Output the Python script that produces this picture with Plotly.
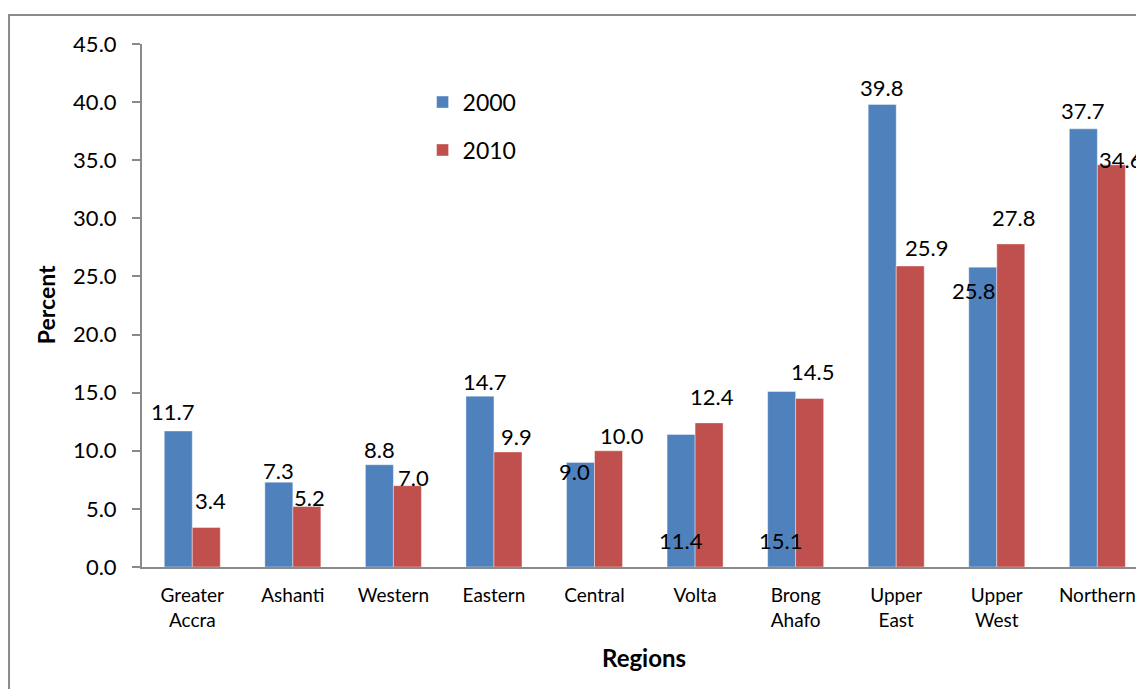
import plotly.graph_objects as go

# ---------- Data ----------
regions = [
    "Greater<br>Accra", "Ashanti", "Western", "Eastern", "Central",
    "Volta", "Brong<br>Ahafo", "Upper<br>East", "Upper<br>West", "Northern",
]
pct_2000 = [11.7, 7.3, 8.8, 14.7, 9.0, 11.4, 15.1, 39.8, 25.8, 37.7]
pct_2010 = [3.4, 5.2, 7.0, 9.9, 10.0, 12.4, 14.5, 25.9, 27.8, 34.6]
y_ticks = [0, 5, 10, 15, 20, 25, 30, 35, 40, 45]

# ---------- Style ----------
BLUE = "#4F81BD"
RED = "#C0504D"
AXIS_GREY = "#8A8A8A"
FONT = "Lato, 'Open Sans', sans-serif"

# label placement (pixel shifts from each bar top, Excel-like manual nudges)
shift_2000 = [(-20, 20), (-14, 12), (-14, 15), (-9, 15), (-20, -9),
              (-14, -106), (-15, -149), (-15, 17), (-23, -23), (-15, 18)]
shift_2010 = [(18, 27), (17, 9), (20, 8), (23, 15), (27, 15),
              (17, 26), (17, 27), (30, 18), (17, 26), (23, 5)]

fig = go.Figure()
fig.add_trace(go.Bar(
    x=regions, y=pct_2000, name="2000", legendgroup="a",
    marker=dict(color=BLUE, line=dict(color="rgba(255,255,255,0.5)", width=0.8)),
))
fig.add_trace(go.Bar(
    x=regions, y=pct_2010, name="2010", legendgroup="b",
    marker=dict(color=RED, line=dict(color="rgba(255,255,255,0.5)", width=0.8)),
))

annotations = []
for values, shifts in ((pct_2000, shift_2000), (pct_2010, shift_2010)):
    for i, (v, (dx, dy)) in enumerate(zip(values, shifts)):
        annotations.append(dict(
            x=i, y=v, xref="x", yref="y", text=f"{v:.1f}", showarrow=False,
            xanchor="center", yanchor="middle", xshift=dx, yshift=dy,
            font=dict(size=22, color="black", family=FONT),
        ))

# axis titles
annotations.append(dict(
    x=-0.0958, y=0.5007, xref="paper", yref="paper", text="<b>Percent</b>",
    xanchor="center", yanchor="middle",
    showarrow=False, textangle=-90, font=dict(size=23, color="black", family=FONT),
))
annotations.append(dict(
    x=0.501, y=-0.1728, xref="paper", yref="paper", text="<b>Regions</b>",
    xanchor="center", yanchor="middle",
    showarrow=False, font=dict(size=24, color="black", family=FONT),
))

fig.update_layout(
    width=1136,
    height=681,
    margin=dict(l=134, r=0, t=36, b=122),
    paper_bgcolor="white",
    plot_bgcolor="white",
    font=dict(family=FONT, color="black"),
    barmode="group",
    bargap=0.443,
    bargroupgap=0,
    showlegend=True,
    legend=dict(
        x=0.28, y=0.93, xanchor="left", yanchor="top",
        font=dict(size=23, family=FONT), tracegroupgap=15,
        bgcolor="rgba(0,0,0,0)",
    ),
    annotations=annotations,
    shapes=[dict(
        type="rect", xref="paper", yref="paper",
        x0=-0.1327, x1=1.2, y0=-0.5, y1=1.0555,
        line=dict(color=AXIS_GREY, width=2), fillcolor="rgba(0,0,0,0)", layer="below",
    )],
    xaxis=dict(
        range=[-0.5, 9.464],
        showline=True, linecolor=AXIS_GREY, linewidth=2,
        showgrid=False, ticks="", ticklabelstandoff=10,
        tickfont=dict(size=19, family=FONT),
    ),
    yaxis=dict(
        range=[0, 45], tickvals=y_ticks, tickformat=".1f",
        showline=True, linecolor=AXIS_GREY, linewidth=2,
        showgrid=False, zeroline=False,
        ticks="outside", ticklen=8, tickwidth=2, tickcolor=AXIS_GREY,
        ticklabelstandoff=11,
        tickfont=dict(size=22, family=FONT),
    ),
)

fig.write_html("out.html")
